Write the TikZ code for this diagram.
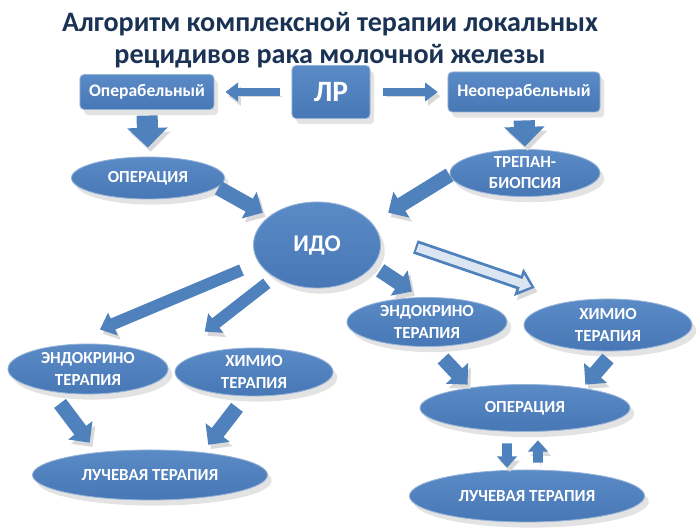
\documentclass[tikz,border=0pt]{standalone}
\usepackage{fontspec}
\setmainfont{Carlito}
\usetikzlibrary{arrows.meta, shapes.geometric, shadows}

\definecolor{nodeblue}{HTML}{4F81BD}
\definecolor{nodetop}{HTML}{5B8BC7}
\definecolor{nodebottom}{HTML}{4777B4}
\definecolor{titleblue}{HTML}{1A3253}
\definecolor{hollowfill}{HTML}{DCE6F2}

\tikzset{
    shade/.style={top color=nodetop, bottom color=nodebottom, draw=nodeblue!60!white, line width=0.6pt,
        drop shadow={shadow xshift=3pt, shadow yshift=-4pt, opacity=0.22}, text=white, inner sep=0pt},
    box/.style={shade, rectangle, rounded corners=3pt, font=\bfseries\fontsize{12.5}{14}\selectfont},
    oval/.style={shade, ellipse, align=center, font=\bfseries\fontsize{12}{15}\selectfont},
    arrowshadow/.style={preaction={draw=black!15, transform canvas={xshift=2pt, yshift=-3pt}}},
    bigarrow/.style={arrowshadow, draw=nodeblue, line width=15pt, -{Triangle[length=14pt, width=28pt]}},
    midarrow/.style={arrowshadow, draw=nodeblue, line width=10.5pt, -{Triangle[length=11pt, width=21pt]}},
    longarrow/.style={arrowshadow, draw=nodeblue, line width=8.5pt, -{Triangle[length=10pt, width=17pt]}},
    thinarrow/.style={arrowshadow, draw=nodeblue, line width=5.7pt, -{Triangle[length=9pt, width=13pt]}},
    smallarrow/.style={arrowshadow, draw=nodeblue, line width=7pt, -{Triangle[length=8pt, width=14pt]}},
    hollowarrow/.style={arrowshadow, draw=nodeblue, line width=10pt, -{Triangle[length=12pt, width=20pt]}},
    hollowinner/.style={draw=hollowfill, line width=6pt, -{Triangle[length=7.5pt, width=12pt]}, shorten >=2.6pt, shorten <=1.5pt}
}

\begin{document}
\begin{tikzpicture}[x=0.025cm, y=-0.025cm]
        \useasboundingbox (0,0) rectangle (700,530);

        % Title
        \node (title) at (330,40) [align=center, text=titleblue, font=\bfseries\fontsize{20}{23}\selectfont] {Алгоритм комплексной терапии локальных\\рецидивов рака молочной железы};

        % Top row
        \node (lr) at (331,92) [box, minimum width=1.95cm, minimum height=1.325cm, font=\bfseries\fontsize{21}{22}\selectfont] {ЛР};
        \node (oper) at (147,92) [box, minimum width=3.35cm, minimum height=0.875cm] {Операбельный};
        \node (neop) at (524,92) [box, minimum width=3.8cm, minimum height=1cm] {Неоперабельный};

        % Second row
        \node (op1) at (148,178) [oval, minimum width=3.825cm, minimum height=1.05cm] {ОПЕРАЦИЯ};
        \node (trepan) at (525,173) [oval, minimum width=3.75cm, minimum height=1.175cm] {ТРЕПАН-\\БИОПСИЯ};
        \node (ido) at (317,245) [oval, minimum width=3.175cm, minimum height=2.15cm, font=\bfseries\fontsize{17}{19}\selectfont] {ИДО};

        % Left branch
        \node (endo1) at (88,369) [oval, minimum width=4cm, minimum height=1.25cm] {ЭНДОКРИНО\\ТЕРАПИЯ};
        \node (chemo1) at (254,372) [oval, minimum width=3.95cm, minimum height=1.2cm] {ХИМИО\\ТЕРАПИЯ};
        \node (ray1) at (150,475) [oval, minimum width=5.875cm, minimum height=1.25cm] {ЛУЧЕВАЯ ТЕРАПИЯ};

        % Right branch
        \node (endo2) at (427,322) [oval, minimum width=4cm, minimum height=1.225cm] {ЭНДОКРИНО\\ТЕРАПИЯ};
        \node (chemo2) at (608,325) [oval, minimum width=4.2cm, minimum height=1.3cm] {ХИМИО\\ТЕРАПИЯ};
        \node (op2) at (525,408) [oval, minimum width=5.25cm, minimum height=1.175cm] {ОПЕРАЦИЯ};
        \node (ray2) at (527,496) [oval, minimum width=5.875cm, minimum height=1.3cm] {ЛУЧЕВАЯ ТЕРАПИЯ};

        % Arrows
        \draw[thinarrow, shorten <=8.5pt, shorten >=7.8pt] (lr.west) -- (oper.east);
        \draw[thinarrow, shorten <=9pt, shorten >=7pt] (lr.east) -- (neop.west);
        \draw[bigarrow, shorten <=4pt, shorten >=6.4pt] (oper.south) -- (op1.north);
        \draw[bigarrow, shorten <=5.7pt, shorten >=1.8pt] (neop.south) -- (trepan.north);
        \draw[midarrow] ([xshift=-4.6pt, yshift=-7.1pt]op1.east) -- ([xshift=-6.5pt, yshift=1.1pt]ido.north west);
        \draw[midarrow] ([yshift=-1.4pt]trepan.west) -- ([xshift=18.5pt, yshift=1.1pt]ido.north east);
        \draw[midarrow] ([xshift=12.8pt, yshift=3.8pt]ido.south east) -- ([xshift=-10.7pt, yshift=3.9pt]endo2.north);
        \draw[hollowarrow] ([xshift=24.5pt, yshift=-1.4pt]ido.east) -- ([xshift=-9.7pt, yshift=13.2pt]chemo2.north west);
        \draw[hollowinner] ([xshift=24.5pt, yshift=-1.4pt]ido.east) -- ([xshift=-9.7pt, yshift=13.2pt]chemo2.north west);
        \draw[longarrow] ([xshift=-8.2pt, yshift=-17.8pt]ido.west) -- ([xshift=8.5pt, yshift=10pt]endo1.north);
        \draw[longarrow] ([xshift=-3.6pt, yshift=-5.4pt]ido.south west) -- ([xshift=4.9pt, yshift=16.4pt]chemo1.north west);
        \draw[midarrow] ([xshift=-19.9pt, yshift=-6.4pt]endo1.south) -- ([xshift=16.4pt, yshift=10.2pt]ray1.north west);
        \draw[midarrow] ([xshift=-12.1pt, yshift=-7.8pt]chemo1.south) -- ([xshift=-17.9pt, yshift=8.7pt]ray1.north east);
        \draw[midarrow] ([xshift=11.4pt, yshift=-8.2pt]endo2.south) -- ([xshift=12.2pt, yshift=4.6pt]op2.north west);
        \draw[midarrow] ([yshift=-5pt]chemo2.south) -- ([xshift=-10.1pt, yshift=4.6pt]op2.north east);
        \draw[smallarrow] ([xshift=-12.8pt, yshift=-8.2pt]op2.south) -- ([xshift=-14.2pt, yshift=1.4pt]ray2.north);
        \draw[smallarrow] ([xshift=7.8pt, yshift=5pt]ray2.north) -- ([xshift=9.2pt, yshift=-6pt]op2.south);
\end{tikzpicture}
\end{document}
